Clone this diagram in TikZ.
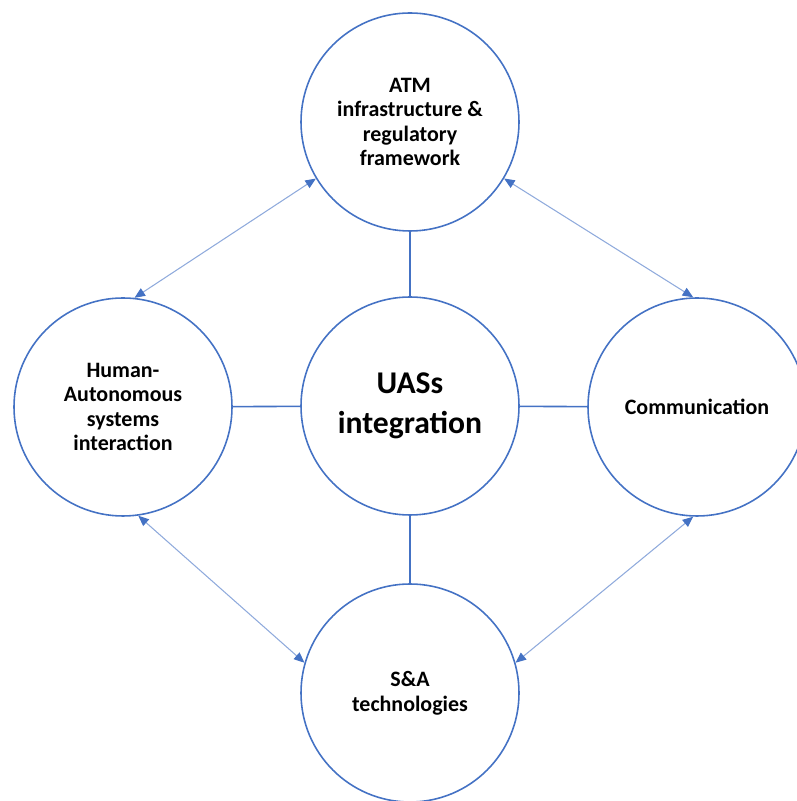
\documentclass[tikz,border=0pt]{standalone}
\usepackage{fontspec}
\setmainfont{Carlito}
\usetikzlibrary{arrows.meta}
\definecolor{ringblue}{HTML}{4472C4}
\definecolor{linkblue}{HTML}{8FAADC}
\begin{document}
\begin{tikzpicture}[
    topic/.style={circle,draw=ringblue,line width=0.9pt,minimum size=4.36cm,inner sep=0pt,
        align=center,font=\fontsize{12.5}{14}\selectfont\bfseries},
    spoke/.style={draw=ringblue,line width=0.9pt},
    link/.style={draw=linkblue,line width=0.6pt,
        {Triangle[length=6pt,width=5pt,color=ringblue]}-{Triangle[length=6pt,width=5pt,color=ringblue]}}]
    \useasboundingbox (0,0) rectangle (15.94,16.02);

    % Circles
    \node (hub) at (8.20,7.90) [topic,font=\fontsize{18}{22.5}\selectfont\bfseries] {UASs\\integration};
    \node (atm) at (8.20,13.58) [topic] {ATM\\infrastructure \&\\regulatory\\framework};
    \node (human) at (2.46,7.88) [topic] {Human-\\Autonomous\\systems\\interaction};
    \node (comm) at (13.94,7.88) [topic] {Communication};
    \node (sa) at (8.20,2.16) [topic] {S\&A\\technologies};

    % Spokes from the hub
    \draw [spoke] (hub) -- (atm);
    \draw [spoke] (hub) -- (human);
    \draw [spoke] (hub) -- (comm);
    \draw [spoke] (hub) -- (sa);

    % Links between neighbours
    \draw [link] (human.84) -- (atm.211);
    \draw [link] (atm.329) -- (comm.92);
    \draw [link] (comm.268) -- (sa.16);
    \draw [link] (sa.164) -- (human.278);
\end{tikzpicture}
\end{document}
